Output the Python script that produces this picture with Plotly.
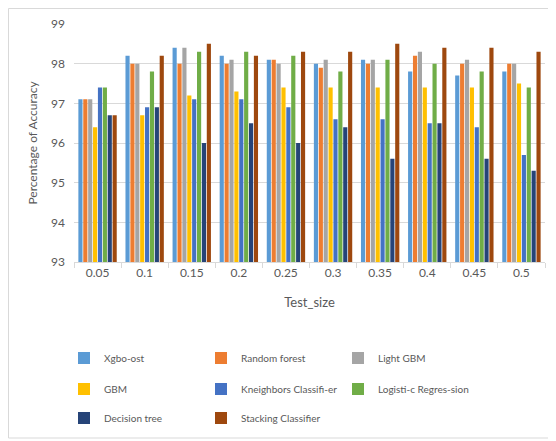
import plotly.graph_objects as go

test_sizes = ["0.05", "0.1", "0.15", "0.2", "0.25", "0.3", "0.35", "0.4", "0.45", "0.5"]
xgboost = [97.1, 98.2, 98.4, 98.2, 98.1, 98.0, 98.1, 97.8, 97.7, 97.8]
random_forest = [97.1, 98.0, 98.0, 98.0, 98.1, 97.9, 98.0, 98.2, 98.0, 98.0]
light_gbm = [97.1, 98.0, 98.4, 98.1, 98.0, 98.1, 98.1, 98.3, 98.1, 98.0]
gbm = [96.4, 96.7, 97.2, 97.3, 97.4, 97.4, 97.4, 97.4, 97.4, 97.5]
kneighbors = [97.4, 96.9, 97.1, 97.1, 96.9, 96.6, 96.6, 96.5, 96.4, 95.7]
logistic = [97.4, 97.8, 98.3, 98.3, 98.2, 97.8, 98.1, 98.0, 97.8, 97.4]
decision_tree = [96.7, 96.9, 96.0, 96.5, 96.0, 96.4, 95.6, 96.5, 95.6, 95.3]
stacking = [96.7, 98.2, 98.5, 98.2, 98.3, 98.3, 98.5, 98.4, 98.4, 98.3]

series = [
    ("Xgbo-ost", xgboost, "#5B9BD5", "legend"),
    ("Random forest", random_forest, "#ED7D31", "legend"),
    ("Light GBM", light_gbm, "#A5A5A5", "legend"),
    ("GBM", gbm, "#FFC000", "legend2"),
    ("Kneighbors Classifi-er", kneighbors, "#4472C4", "legend2"),
    ("Logisti-c Regres-sion", logistic, "#70AD47", "legend2"),
    ("Decision tree", decision_tree, "#264478", "legend3"),
    ("Stacking Classifier", stacking, "#9E480E", "legend3"),
]

FONT = "Lato, Open Sans, sans-serif"
GRAY = "#595959"

fig = go.Figure()
for name, vals, color, lg in series:
    fig.add_trace(go.Bar(x=test_sizes, y=vals, name=name, marker_color=color,
                         marker_line_width=0, legend=lg))

# page body has an 8px margin, so the figure is sized to fit the window
W, H = 548, 433
L, R, T, B = 66, 11, 16, 179
pw, ph = W - L - R, H - T - B

def px_x(x):
    return (x - L) / pw

def px_y(y):
    return (H - B - y) / ph

leg_common = dict(orientation="h", xanchor="left", yanchor="middle",
                  entrywidth=92, entrywidthmode="pixels", itemwidth=30,
                  font=dict(family=FONT, size=10, color=GRAY),
                  bgcolor="rgba(0,0,0,0)", itemclick=False)

fig.update_layout(
    width=W, height=H,
    margin=dict(l=L, r=R, t=T, b=B, autoexpand=False),
    paper_bgcolor="white", plot_bgcolor="white",
    barmode="group", bargap=0.17, bargroupgap=0.15,
    font=dict(family=FONT, size=12, color=GRAY),
    legend=dict(x=px_x(56), y=px_y(350), **leg_common),
    legend2=dict(x=px_x(56), y=px_y(381), **leg_common),
    legend3=dict(x=px_x(56), y=px_y(410), **leg_common),
    xaxis=dict(title=dict(text="Test_size", font=dict(size=13, color=GRAY), standoff=18),
               showline=True, linecolor="#d9d9d9", linewidth=1,
               ticks="outside", tickson="boundaries", ticklen=5, tickcolor="#d9d9d9",
               tickfont=dict(size=12, color=GRAY)),
    yaxis=dict(title=dict(text="Percentage of Accuracy", font=dict(size=12, color=GRAY), standoff=10),
               range=[93, 99], dtick=1, showgrid=True, gridcolor="#d9d9d9",
               ticklabelstandoff=8,
               zeroline=False, showline=False, tickfont=dict(size=12, color=GRAY)),
    shapes=[dict(type="rect", xref="paper", yref="paper",
                 x0=px_x(0.5), x1=px_x(545), y0=px_y(430), y1=px_y(0.5),
                 line=dict(color="#d9d9d9", width=1), fillcolor="rgba(0,0,0,0)",
                 layer="above")],
)

fig.write_html("out.html")
